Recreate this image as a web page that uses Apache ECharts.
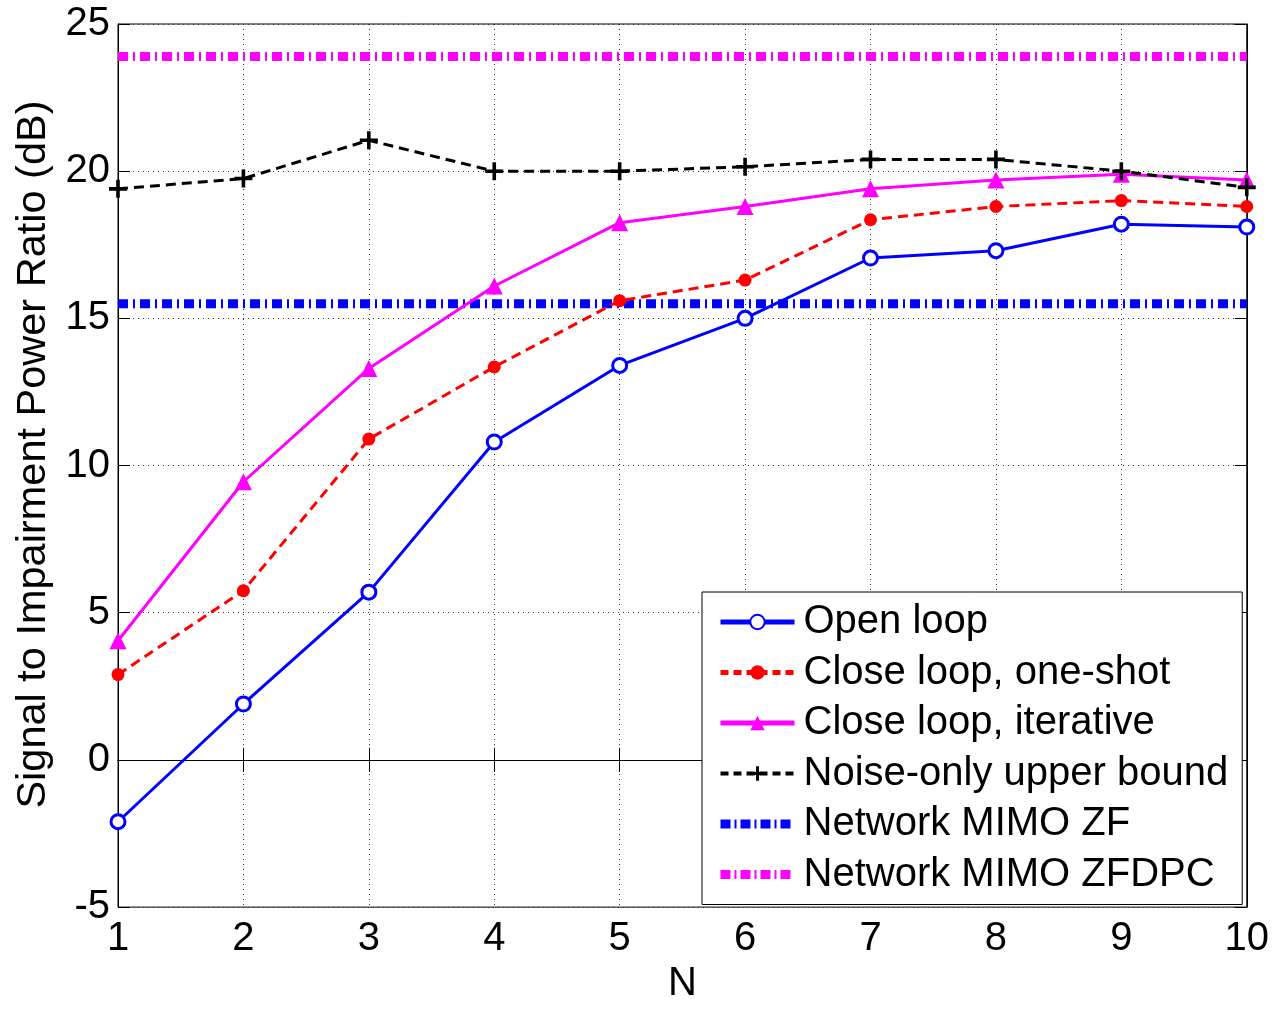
<!DOCTYPE html>
<html lang="en">
<head>
    <meta charset="utf-8"/>
    <title>Signal to Impairment Power Ratio vs N</title>
    <script src="https://cdn.jsdelivr.net/npm/echarts@6/dist/echarts.min.js"></script>
    <style>
        html, body { margin: 0; padding: 0; background: #fff; }
        #main { width: 1272px; height: 1009px; }
    </style>
</head>
<body>
<div id="main"></div>
<script>
    // data
    var nValues = [1, 2, 3, 4, 5, 6, 7, 8, 9, 10];
    var openLoop = [-2.1, 1.9, 5.7, 10.8, 13.4, 15.0, 17.05, 17.3, 18.2, 18.1];
    var closeOneShot = [2.9, 5.75, 10.9, 13.35, 15.6, 16.3, 18.35, 18.8, 19.0, 18.8];
    var closeIterative = [4.05, 9.45, 13.3, 16.1, 18.25, 18.8, 19.4, 19.7, 19.9, 19.7];
    var noiseOnly = [19.4, 19.75, 21.05, 20.0, 20.0, 20.15, 20.4, 20.4, 20.0, 19.45];
    var mimoZF = 15.5;
    var mimoZFDPC = 23.9;
    var legendNames = ['Open loop', 'Close loop, one-shot', 'Close loop, iterative',
        'Noise-only upper bound', 'Network MIMO ZF', 'Network MIMO ZFDPC'];

    function pairs(ys) {
        var out = [];
        for (var i = 0; i < nValues.length; i++) {
            out.push([nValues[i], ys[i]]);
        }
        return out;
    }

    function flat(v) {
        return [[nValues[0], v], [nValues[nValues.length - 1], v]];
    }

    var font = 'Liberation Sans, Arial, sans-serif';
    var plusPath = 'path://M4,0H6V4H10V6H6V10H4V6H0V4H4Z';
    var dashDot = [10, 5, 2, 5];

    var myChart = echarts.init(document.getElementById('main'));

    var option = {
        backgroundColor: '#fff',
        animation: false,
        grid: {
            left: 118, right: 24, top: 24, bottom: 93,
            show: true, borderColor: '#000', borderWidth: 1
        },
        legend: {
            data: [
                { name: legendNames[0], lineStyle: { color: '#0000ff', width: 5 } },
                { name: legendNames[1], lineStyle: { color: '#ff0000', width: 5, type: [8, 5] } },
                { name: legendNames[2], lineStyle: { color: '#ff00ff', width: 5 } },
                { name: legendNames[3], lineStyle: { color: '#000', width: 4, type: [8, 5] } },
                {
                    name: legendNames[4],
                    itemStyle: { opacity: 0 },
                    lineStyle: { color: '#0000ff', width: 9, type: [10, 4, 2, 4], cap: 'butt' }
                },
                {
                    name: legendNames[5],
                    itemStyle: { opacity: 0 },
                    lineStyle: { color: '#ff00ff', width: 9, type: [10, 4, 2, 4], cap: 'butt' }
                }
            ],
            orient: 'vertical',
            left: 702,
            top: 592,
            width: 535,
            padding: [10, 14, 10, 14],
            itemGap: 10.5,
            itemWidth: 74,
            itemHeight: 18,
            backgroundColor: '#fff',
            borderColor: '#000',
            borderWidth: 1,
            borderRadius: 0,
            textStyle: { fontFamily: font, fontSize: 40, color: '#000', lineHeight: 40, padding: [0, 0, 0, 4] }
        },
        xAxis: [{
            type: 'value',
            min: 1, max: 10, interval: 1,
            name: 'N',
            nameLocation: 'middle',
            nameGap: 56,
            nameTextStyle: { fontFamily: font, fontSize: 40, color: '#000' },
            axisLine: { lineStyle: { color: '#000', width: 1 } },
            axisTick: { inside: true, length: 12, lineStyle: { color: '#000' } },
            axisLabel: { fontFamily: font, fontSize: 40, color: '#000', margin: 12 },
            splitLine: { show: true, lineStyle: { color: '#333', type: [1, 4], width: 1 } }
        }, {
            type: 'value', position: 'top',
            min: 1, max: 10, interval: 1,
            axisLine: { show: true, lineStyle: { color: '#000' } },
            axisTick: { inside: true, length: 12, lineStyle: { color: '#000' } },
            axisLabel: { show: false },
            splitLine: { show: false }
        }],
        yAxis: [{
            type: 'value',
            min: -5, max: 25, interval: 5,
            name: 'Signal to Impairment Power Ratio (dB)',
            nameLocation: 'middle',
            nameGap: 63,
            nameTextStyle: { fontFamily: font, fontSize: 41.5, color: '#000', padding: [0, 0, 0, 22] },
            axisLine: { show: true, lineStyle: { color: '#000', width: 1 } },
            axisTick: { show: true, inside: true, length: 12, lineStyle: { color: '#000' } },
            axisLabel: { fontFamily: font, fontSize: 40, color: '#000', margin: 8 },
            splitLine: { show: true, lineStyle: { color: '#333', type: [1, 4], width: 1 } }
        }, {
            type: 'value', position: 'right',
            min: -5, max: 25, interval: 5,
            axisLine: { show: true, lineStyle: { color: '#000' } },
            axisTick: { show: true, inside: true, length: 12, lineStyle: { color: '#000' } },
            axisLabel: { show: false },
            splitLine: { show: false }
        }],
        series: [{
            name: legendNames[0],
            type: 'line',
            data: pairs(openLoop),
            symbol: 'circle',
            symbolSize: 14,
            lineStyle: { color: '#0000ff', width: 3 },
            itemStyle: { color: '#fff', borderColor: '#0000ff', borderWidth: 3 },
            z: 5
        }, {
            name: legendNames[1],
            type: 'line',
            data: pairs(closeOneShot),
            symbol: 'circle',
            symbolSize: 13,
            lineStyle: { color: '#ff0000', width: 3, type: [10, 6] },
            itemStyle: { color: '#ff0000' },
            z: 4
        }, {
            name: legendNames[2],
            type: 'line',
            data: pairs(closeIterative),
            symbol: 'triangle',
            symbolSize: 17,
            lineStyle: { color: '#ff00ff', width: 3 },
            itemStyle: { color: '#ff00ff' },
            z: 4
        }, {
            name: legendNames[3],
            type: 'line',
            data: pairs(noiseOnly),
            symbol: plusPath,
            symbolSize: 18,
            lineStyle: { color: '#000', width: 3, type: [10, 6] },
            itemStyle: { color: '#000' },
            z: 4
        }, {
            name: legendNames[4],
            type: 'line',
            data: flat(mimoZF),
            symbol: 'none',
            lineStyle: { color: '#0000ff', width: 9, type: dashDot, cap: 'butt' },
            itemStyle: { color: '#0000ff' },
            z: 3
        }, {
            name: legendNames[5],
            type: 'line',
            data: flat(mimoZFDPC),
            symbol: 'none',
            lineStyle: { color: '#ff00ff', width: 9, type: dashDot, cap: 'butt' },
            itemStyle: { color: '#ff00ff' },
            z: 3
        }]
    };

    myChart.setOption(option);
</script>
</body>
</html>
